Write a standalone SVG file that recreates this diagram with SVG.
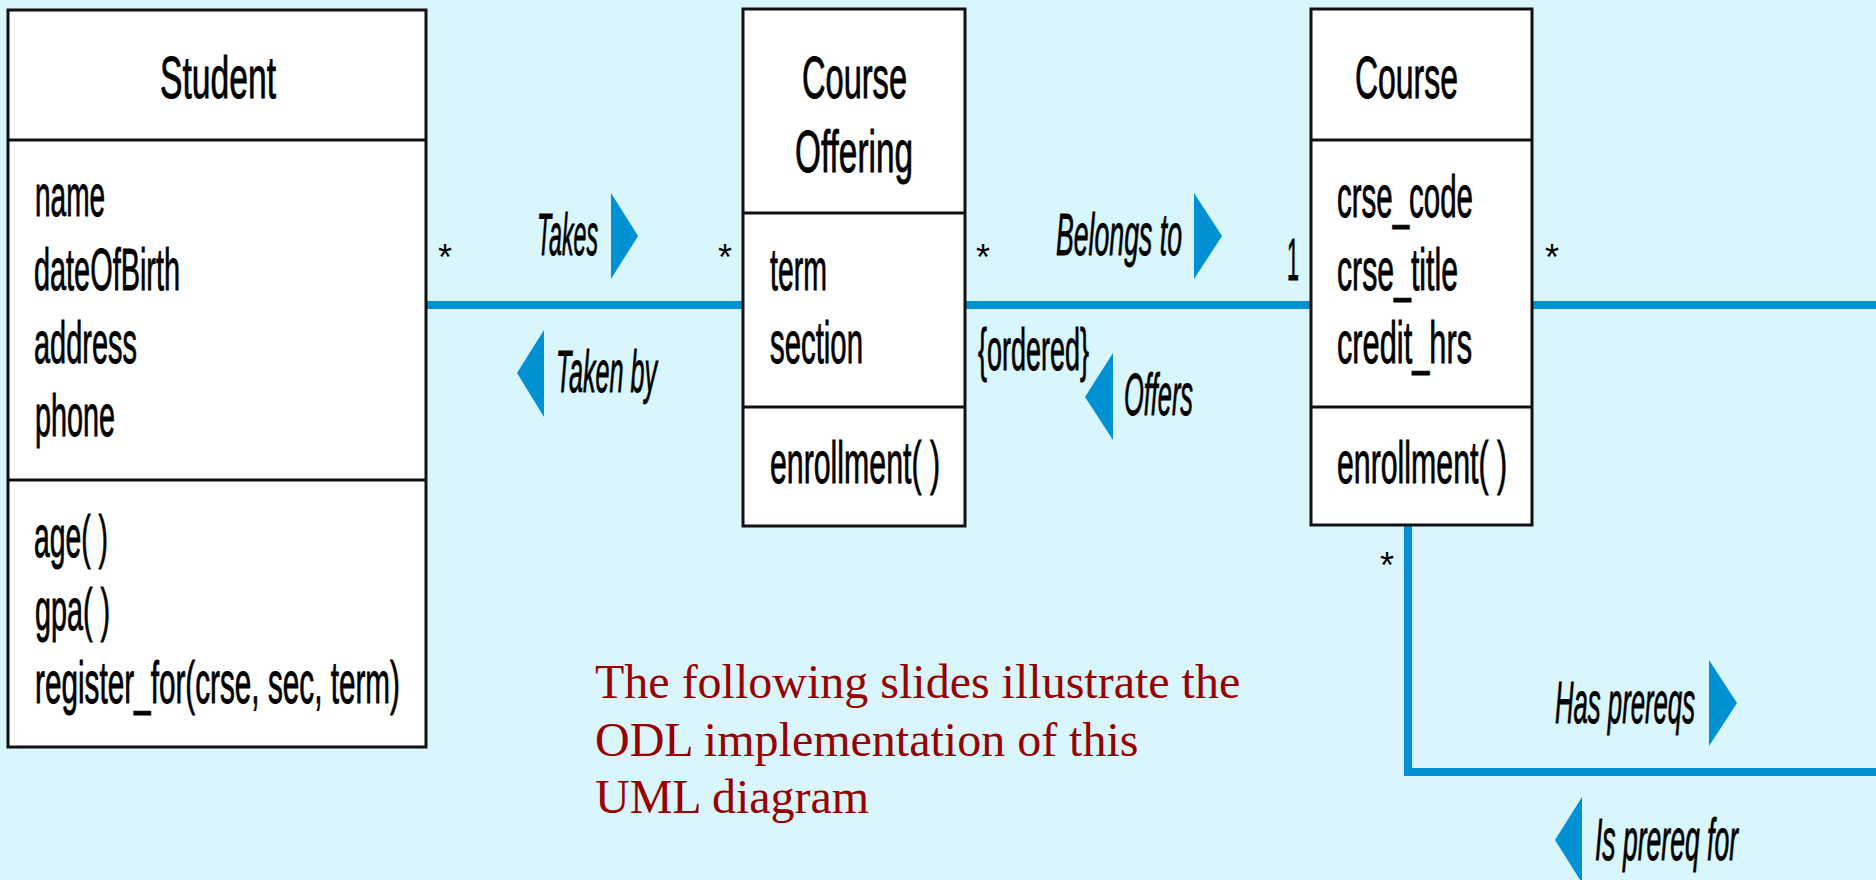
<svg xmlns="http://www.w3.org/2000/svg" width="1876" height="880" viewBox="0 0 1876 880">
<style>
.box{fill:#ffffff;stroke:#111111;stroke-width:3}
.div{stroke:#111111;stroke-width:3}
.t{font-family:"Liberation Sans",Arial,sans-serif;font-size:60px;fill:#000000;stroke:#000000;stroke-width:0.9}
.lbl{font-family:"Liberation Sans",Arial,sans-serif;font-size:60px;font-style:italic;fill:#000000;stroke:#000000;stroke-width:0.9}
.star{font-family:"Liberation Sans",Arial,sans-serif;font-size:36px;fill:#000000}
.conn{fill:none;stroke:#0091d5;stroke-width:8}
.arr{fill:#0091d5}
.note{font-family:"Liberation Serif","Times New Roman",serif;font-size:48px;fill:#990000}
</style>
<rect x="0" y="0" width="1876" height="880" fill="#d9f6fd"/>

<g id="connectors">
  <line class="conn" x1="426" y1="305" x2="743" y2="305"/>
  <line class="conn" x1="965" y1="305" x2="1311" y2="305"/>
  <line class="conn" x1="1532" y1="305" x2="1876" y2="305"/>
  <polyline class="conn" points="1408,525 1408,772 1876,772"/>
  <polygon class="arr" points="611,193 638,236 611,279"/>
  <polygon class="arr" points="544,330 517,373 544,417"/>
  <polygon class="arr" points="1194,193 1222,236 1194,279"/>
  <polygon class="arr" points="1113,353 1085,397 1113,440"/>
  <polygon class="arr" points="1709,660 1737,703 1709,746"/>
  <polygon class="arr" points="1582,797 1555,840 1582,883"/>
  <text class="lbl" x="537" y="255" textLength="61" lengthAdjust="spacingAndGlyphs">Takes</text>
  <text class="lbl" x="556" y="392" textLength="101" lengthAdjust="spacingAndGlyphs">Taken by</text>
  <text class="lbl" x="1056" y="255" textLength="126" lengthAdjust="spacingAndGlyphs">Belongs to</text>
  <text class="t" x="978" y="370" textLength="111" lengthAdjust="spacingAndGlyphs">{ordered}</text>
  <text class="lbl" x="1124" y="415" textLength="69" lengthAdjust="spacingAndGlyphs">Offers</text>
  <text class="lbl" x="1555" y="723" textLength="140" lengthAdjust="spacingAndGlyphs">Has prereqs</text>
  <text class="lbl" x="1595" y="860" textLength="143" lengthAdjust="spacingAndGlyphs">Is prereq for</text>
  <text class="star" x="438" y="270">*</text>
  <text class="star" x="718" y="270">*</text>
  <text class="star" x="976" y="270">*</text>
  <text class="star" x="1545" y="270">*</text>
  <text class="star" x="1380" y="578">*</text>
  <text class="t" x="1287" y="280" textLength="12" lengthAdjust="spacingAndGlyphs">1</text>
</g>

<g id="student">
  <rect class="box" x="8" y="10" width="418" height="737"/>
  <line class="div" x1="8" y1="140" x2="426" y2="140"/>
  <line class="div" x1="8" y1="480" x2="426" y2="480"/>
  <text class="t" x="160" y="98" textLength="116" lengthAdjust="spacingAndGlyphs">Student</text>
  <text class="t" x="35" y="216" textLength="70" lengthAdjust="spacingAndGlyphs">name</text>
  <text class="t" x="34" y="290" textLength="146" lengthAdjust="spacingAndGlyphs">dateOfBirth</text>
  <text class="t" x="34" y="363" textLength="103" lengthAdjust="spacingAndGlyphs">address</text>
  <text class="t" x="35" y="436" textLength="80" lengthAdjust="spacingAndGlyphs">phone</text>
  <text class="t" x="34" y="557" textLength="74" lengthAdjust="spacingAndGlyphs">age( )</text>
  <text class="t" x="35" y="630" textLength="75" lengthAdjust="spacingAndGlyphs">gpa( )</text>
  <text class="t" x="35" y="703" textLength="365" lengthAdjust="spacingAndGlyphs">register_for(crse, sec, term)</text>
</g>

<g id="course-offering">
  <rect class="box" x="743" y="9" width="222" height="517"/>
  <line class="div" x1="743" y1="213" x2="965" y2="213"/>
  <line class="div" x1="743" y1="407" x2="965" y2="407"/>
  <text class="t" x="802" y="98" textLength="105" lengthAdjust="spacingAndGlyphs">Course</text>
  <text class="t" x="795" y="172" textLength="118" lengthAdjust="spacingAndGlyphs">Offering</text>
  <text class="t" x="770" y="290" textLength="57" lengthAdjust="spacingAndGlyphs">term</text>
  <text class="t" x="770" y="363" textLength="93" lengthAdjust="spacingAndGlyphs">section</text>
  <text class="t" x="770" y="483" textLength="170" lengthAdjust="spacingAndGlyphs">enrollment( )</text>
</g>

<g id="course">
  <rect class="box" x="1311" y="9" width="221" height="516"/>
  <line class="div" x1="1311" y1="140" x2="1532" y2="140"/>
  <line class="div" x1="1311" y1="407" x2="1532" y2="407"/>
  <text class="t" x="1355" y="98" textLength="103" lengthAdjust="spacingAndGlyphs">Course</text>
  <text class="t" x="1337" y="217" textLength="136" lengthAdjust="spacingAndGlyphs">crse_code</text>
  <text class="t" x="1337" y="290" textLength="121" lengthAdjust="spacingAndGlyphs">crse_title</text>
  <text class="t" x="1337" y="363" textLength="135" lengthAdjust="spacingAndGlyphs">credit_hrs</text>
  <text class="t" x="1337" y="483" textLength="170" lengthAdjust="spacingAndGlyphs">enrollment( )</text>
</g>

<g id="note">
  <text class="note" x="595" y="698">The following slides illustrate the</text>
  <text class="note" x="595" y="756">ODL implementation of this</text>
  <text class="note" x="595" y="813">UML diagram</text>
</g>
</svg>
